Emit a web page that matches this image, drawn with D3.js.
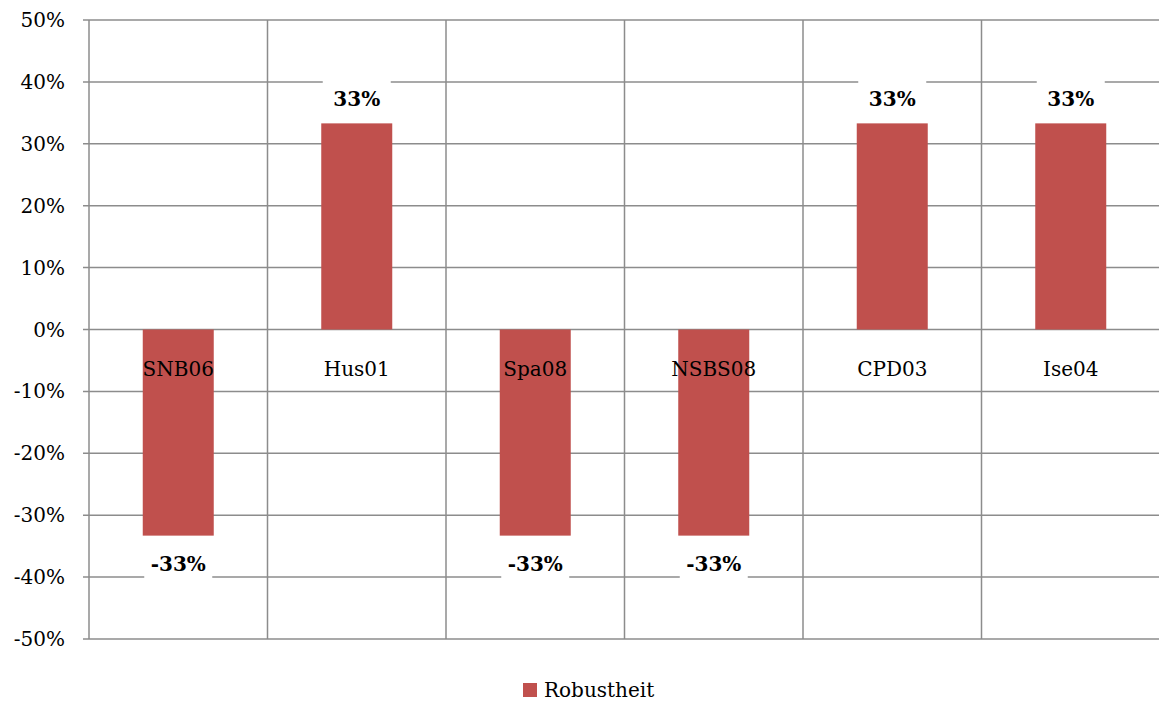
<!DOCTYPE html>
<html><head><meta charset="utf-8">
<script src="https://cdn.jsdelivr.net/npm/d3@7"></script>
<style>body{margin:0;background:#fff}svg{display:block}</style>
</head><body>
<svg id="c" width="1159" height="702"></svg>
<script>
const categories = ["SNB06","Hus01","Spa08","NSBS08","CPD03","Ise04"];
const values = [-0.333,0.333,-0.333,-0.333,0.333,0.333];
const yTicks = [-0.5,-0.4,-0.3,-0.2,-0.1,0,0.1,0.2,0.3,0.4,0.5];
const seriesName = "Robustheit";

const svg = d3.select("#c");
const font = "'DejaVu Serif', 'Liberation Serif', serif";
const L = 89, R = 1160, T = 20, B = 639;
const x = d3.scaleBand().domain(categories).range([L, R]).paddingInner(0).paddingOuter(0);
const y = d3.scaleLinear().domain([-0.5, 0.5]).range([B, T]);
const grid = "#8c8c8c";
const fmt = d => d3.format(".0%")(d).replace("\u2212", "-");
const fs = 20;

// horizontal gridlines
svg.append("g").selectAll("line").data(yTicks).join("line")
  .attr("x1", L - 6).attr("x2", R).attr("y1", d => y(d)).attr("y2", d => y(d))
  .attr("stroke", grid).attr("stroke-width", 1.5);
// vertical gridlines
svg.append("g").selectAll("line").data(categories).join("line")
  .attr("x1", d => x(d)).attr("x2", d => x(d)).attr("y1", T).attr("y2", B)
  .attr("stroke", grid).attr("stroke-width", 1.5);
// y labels
svg.append("g").selectAll("text").data(yTicks).join("text")
  .attr("x", 65).attr("y", d => y(d) + 7).attr("text-anchor", "end")
  .attr("font-family", font).attr("font-size", fs).attr("fill", "#000")
  .text(d => fmt(d));

// bars
const bw = 71;
svg.append("g").selectAll("rect").data(values).join("rect")
  .attr("x", (d, i) => x(categories[i]) + x.bandwidth() / 2 - bw / 2)
  .attr("width", bw)
  .attr("y", d => y(Math.max(0, d)))
  .attr("height", d => Math.abs(y(d) - y(0)))
  .attr("fill", "#C0504D");

// category labels
svg.append("g").selectAll("text").data(categories).join("text")
  .attr("x", d => x(d) + x.bandwidth() / 2).attr("y", y(0) + 46)
  .attr("text-anchor", "middle").attr("font-family", font).attr("font-size", fs)
  .attr("fill", "#000").text(d => d);

// data labels with white boxes
const dl = svg.append("g").selectAll("g").data(values).join("g")
  .attr("transform", (d, i) => {
    const cx = x(categories[i]) + x.bandwidth() / 2;
    const cy = d >= 0 ? y(d) - 24 : y(d) + 28;
    return `translate(${cx},${cy})`;
  });
dl.append("rect").attr("x", -34).attr("y", -19).attr("width", 68).attr("height", 38).attr("fill", "#fff");
dl.append("text").attr("y", 7).attr("text-anchor", "middle")
  .attr("font-family", font).attr("font-size", fs).attr("font-weight", "bold")
  .attr("fill", "#000").text(d => fmt(d));

// legend
const lg = svg.append("g").attr("transform", "translate(523,683)");
lg.append("rect").attr("width", 14).attr("height", 14).attr("fill", "#C0504D");
lg.append("text").attr("x", 21).attr("y", 14).attr("font-family", font).attr("font-size", fs)
  .attr("fill", "#000").text(seriesName);
</script>
</body></html>
